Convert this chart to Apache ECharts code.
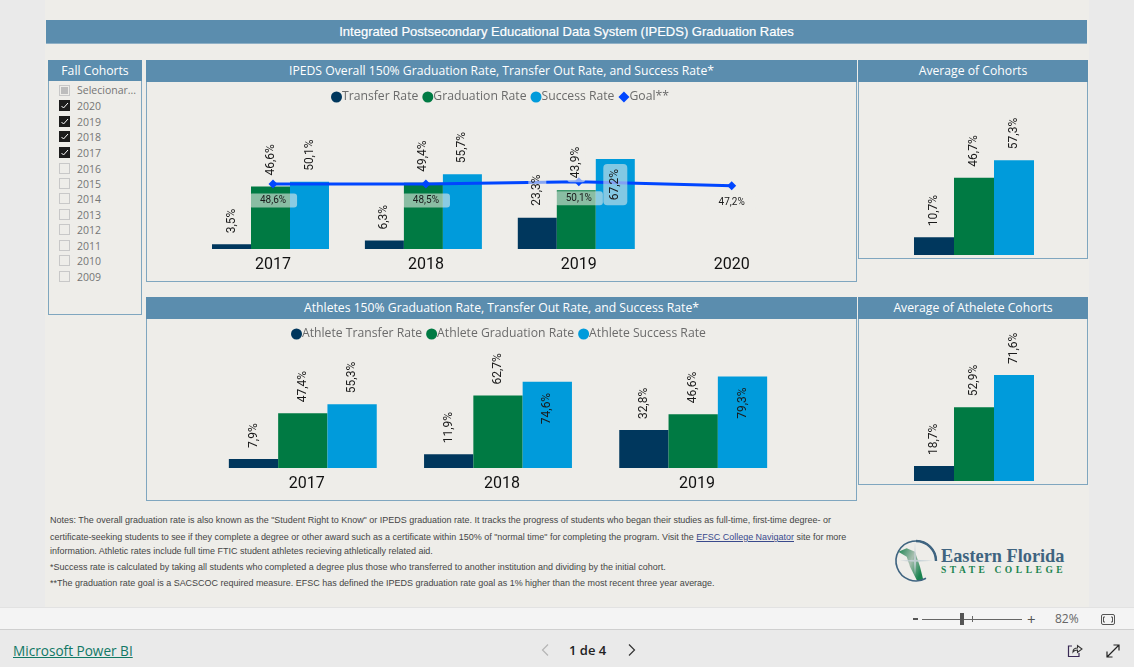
<!DOCTYPE html>
<html><head><meta charset="utf-8">
<script src="https://cdn.jsdelivr.net/npm/echarts@6/dist/echarts.min.js"></script>
<style>
html,body{margin:0;padding:0;background:#EAEAEA;overflow:hidden}
#page{position:relative;width:1134px;height:667px;overflow:hidden;font-family:"Open Sans",sans-serif}
#page>*{position:absolute}
#canvas{left:45px;top:0;width:1044px;height:607px;background:#EEEDE9}
#chart{left:0;top:0;width:1134px;height:667px;z-index:5}
.panel{box-sizing:border-box;border:1px solid #7FA6BF;background:#EEEDE9}
.hd{background:#5B8DAE;color:#fff;text-align:center;font-size:12.2px;line-height:21px;height:22px;white-space:nowrap}
.hd.abs{position:absolute;left:-1px;right:-1px;top:-1px}
#main{left:46px;top:20px;width:1041px;height:24px;background:#5B8DAE;border-bottom:1px solid #8FB0C6;box-sizing:border-box;color:#fff;text-align:center;font:13px/23px "Liberation Sans",Arial,sans-serif;-webkit-text-stroke:.2px #fff}
.sl{font-size:10.5px;color:#757575;line-height:12px;font-family:"Open Sans",sans-serif;white-space:nowrap}
.cb{box-sizing:border-box;width:11px;height:11px;border:1px solid #C8C8C8;background:#EEEDE9}
.cb.on{background:#1c1c1c;border-color:#1c1c1c}
.note{left:50px;font:8.97px/11px "Liberation Sans",Arial,sans-serif;color:#454545;white-space:nowrap}
#logo1{left:941px;top:544px;font:bold 18.3px/24px "Liberation Serif",serif;color:#3F6480;white-space:nowrap}
#logo2{left:941px;top:564px;font:bold 9.5px/12px "Liberation Serif",serif;color:#1B8450;letter-spacing:3.55px;white-space:nowrap}
</style></head><body>
<div id="page">
<div id="canvas"></div>
<div style="left:0;top:607px;width:1134px;height:23px;background:#F4F4F4;border-top:1px solid #E2E2E2;border-bottom:1px solid #CFCFCF;box-sizing:border-box"></div>
<div id="main">Integrated Postsecondary Educational Data System (IPEDS) Graduation Rates</div>

<div class="panel" style="left:48px;top:60px;width:94px;height:255px"><div class="hd abs" style="height:21px">Fall Cohorts</div></div>
<div class="panel" style="left:146px;top:60px;width:711px;height:222px"><div class="hd abs">IPEDS Overall 150% Graduation Rate, Transfer Out Rate, and Success Rate*</div></div>
<div class="panel" style="left:858px;top:60px;width:230px;height:199px"><div class="hd abs">Average of Cohorts</div></div>
<div class="panel" style="left:146px;top:297px;width:711px;height:204px"><div class="hd abs">Athletes 150% Graduation Rate, Transfer Out Rate, and Success Rate*</div></div>
<div class="panel" style="left:858px;top:297px;width:230px;height:188px"><div class="hd abs">Average of Athelete Cohorts</div></div>

<div id="slicer" style="left:0;top:0"></div>

<div class="note" style="top:515px">Notes: The overall graduation rate is also known as the "Student Right to Know" or IPEDS graduation rate. It tracks the progress of students who began their studies as full-time, first-time degree- or</div>
<div class="note" style="top:532px">certificate-seeking students to see if they complete a degree or other award such as a certificate within 150% of "normal time" for completing the program. Visit the <span style="color:#3A4A8C;text-decoration:underline">EFSC College Navigator</span> site for more</div>
<div class="note" style="top:546px">information. Athletic rates include full time FTIC student athletes recieving athletically related aid.</div>
<div class="note" style="top:562px">*Success rate is calculated by taking all students who completed a degree plus those who transferred to another institution and dividing by the initial cohort.</div>
<div class="note" style="top:578px">**The graduation rate goal is a SACSCOC required measure. EFSC has defined the IPEDS graduation rate goal as 1% higher than the most recent three year average.</div>

<svg style="left:893px;top:538px" width="46" height="46" viewBox="0 0 46 46">
<defs><linearGradient id="fl" x1="0" y1="0" x2="1" y2="0.6"><stop offset="0" stop-color="#1B8450"/><stop offset=".55" stop-color="#A9BFB0"/><stop offset="1" stop-color="#1B8450"/></linearGradient></defs>
<path d="M5.3 13.7 L13.7 10.3 L22 13.7 L27 28.7 L30.3 42 L23.7 42 L17 28.7 L13.7 18.7 Z" fill="url(#fl)"/>
<path d="M43 23 A20 20 0 1 0 33 40.3" fill="none" stroke="#3F6480" stroke-width="1.6"/>
<path d="M43 23 A20 20 0 0 0 23 3" fill="none" stroke="#3F6480" stroke-width="2.4"/>
<path d="M22 5 L23 21.7 L39.7 22.7 L23 23.7 L22 38 L21 23.7 L7 22.7 L21 21.7 Z" fill="#C5D0D6" opacity=".9"/>
</svg>
<div id="logo1">Eastern Florida</div>
<div id="logo2">STATE COLLEGE</div>

<div style="left:913px;top:618px;width:5px;height:2px;background:#555"></div>
<div style="left:922px;top:619px;width:100px;height:1px;background:#666"></div>
<div style="left:960px;top:613px;width:4px;height:12px;background:#555"></div>
<div style="left:972px;top:616px;width:1px;height:6px;background:#666"></div>
<div style="left:1027px;top:610px;font-size:15px;line-height:18px;color:#555">+</div>
<div style="left:1055px;top:611px;font-size:12px;line-height:16px;color:#666">82%</div>
<svg style="left:1100px;top:613px" width="16" height="13" viewBox="0 0 16 13"><rect x="1.5" y="1.5" width="13" height="10" rx="1.5" fill="none" stroke="#555"/><path d="M5 4H3.5V9H5M11 4H12.5V9H11" fill="none" stroke="#555"/></svg>

<div style="left:13px;top:641px;font-size:13.6px;line-height:20px;color:#117865;text-decoration:underline;font-weight:500;white-space:nowrap">Microsoft Power BI</div>
<svg style="left:540px;top:643px" width="10" height="14" viewBox="0 0 10 14"><path d="M8 1.5L2.5 7L8 12.5" fill="none" stroke="#B5B5B5" stroke-width="1.2"/></svg>
<div style="left:569px;top:641px;font-size:13px;line-height:18px;font-weight:600;color:#222;white-space:nowrap">1 de 4</div>
<svg style="left:627px;top:643px" width="10" height="14" viewBox="0 0 10 14"><path d="M2 1.5L7.5 7L2 12.5" fill="none" stroke="#333" stroke-width="1.2"/></svg>
<svg style="left:1067px;top:643px" width="16" height="15" viewBox="0 0 16 15"><path d="M5 3H1.5V13.5H12V10" fill="none" stroke="#3a2a55" stroke-width="1.2"/><path d="M6 9C6 6 8 5 10.5 5V2.5L15 6L10.5 9.5V7C8.5 7 7 7.5 6 9Z" fill="none" stroke="#333" stroke-width="1.1"/></svg>
<svg style="left:1106px;top:644px" width="14" height="14" viewBox="0 0 14 14"><path d="M1 13L13 1M7.5 1H13V6.5M1 7.5V13H6.5" fill="none" stroke="#222" stroke-width="1.2"/></svg>

<div id="chart"></div>
</div>
<script>
// ---- Data ----
const cohortYears = ['2020','2019','2018','2017','2016','2015','2014','2013','2012','2011','2010','2009'];
const checkedYears = ['2020','2019','2018','2017'];
const overallCategories = ['2017','2018','2019','2020'];
const overallTransfer = [3.5, 6.3, 23.3, null];
const overallGraduation = [46.6, 49.4, 43.9, null];
const overallSuccess = [50.1, 55.7, 67.2, null];
const overallGoal = [48.6, 48.5, 50.1, 47.2];
const athleteCategories = ['2017','2018','2019'];
const athleteTransfer = [7.9, 11.9, 32.8];
const athleteGraduation = [47.4, 62.7, 46.6];
const athleteSuccess = [55.3, 74.6, 79.3];
const averageValues = [10.7, 46.7, 57.3];
const athleteAverageValues = [18.7, 52.9, 71.6];

const NAVY='#00375D', GREEN='#007A43', BLUE='#009BDB', GOAL='#0046FF';
const PILL='rgba(238,237,233,.58)', INK='#1a1a1a', FONT='Roboto, sans-serif';
const pct = v => v.toFixed(1).replace('.',',') + '%';

// slicer rows (plain page text)
(function(){
  const host=document.getElementById('slicer');
  const ys=[106,122,137,153,169,184,199,215,230,246,261,277];
  let h='<div class="cb" style="position:absolute;left:59px;top:85px;display:flex;align-items:center;justify-content:center"><div style="width:7px;height:7px;background:#BDBDBD"></div></div><div class="sl" style="position:absolute;left:77px;top:84px">Selecionar...</div>';
  cohortYears.forEach((y,i)=>{
    const on=checkedYears.includes(y);
    h+='<div class="cb'+(on?' on':'')+'" style="position:absolute;left:59px;top:'+(ys[i]-6)+'px">'+(on?'<svg width="9" height="9" viewBox="0 0 9 9" style="display:block"><path d="M1.5 5L3.5 7L8 2" fill="none" stroke="#fff" stroke-width="1"/></svg>':'')+'</div>';
    h+='<div class="sl" style="position:absolute;left:77px;top:'+(ys[i]-6)+'px">'+y+'</div>';
  });
  host.innerHTML=h;
})();

const grids=[], xAxes=[], yAxes=[], series=[];
function addGrid(left,top,width,height,cats,min,max,showLabels){
  const g=grids.length;
  grids.push({left,top,width,height,containLabel:false});
  xAxes.push({type:'category',gridIndex:g,data:cats,axisLine:{show:false},axisTick:{show:false},splitLine:{show:false},
    axisLabel:{show:showLabels,fontFamily:FONT,fontSize:16,color:'#111',margin:8}});
  yAxes.push({type:'value',gridIndex:g,min,max,show:false});
  return g;
}
const tiny={fontFamily:FONT,fontSize:12,color:INK,formatter:p=>pct(p.value)};
function outside(extra){return Object.assign({show:true,position:'top',rotate:90,align:'left',verticalAlign:'middle',distance:11},tiny,extra||{});}
function inside(extra){return Object.assign({show:true,position:'insideTop',rotate:90,align:'right',verticalAlign:'middle',distance:11},tiny,extra||{});}
function bar(name,g,data,color,width,labelFor){
  series.push({name,type:'bar',xAxisIndex:g,yAxisIndex:g,barWidth:width,barGap:'0%',z:2,
    itemStyle:{color},
    data:data.map((v,i)=>({value:v,label:labelFor?labelFor(i):outside()}))});
}
// transparent twin of a bar series: carries only the value labels, above the goal line
function labelLayer(name,g,data,width,labelFor){
  series.push({name,type:'bar',xAxisIndex:g,yAxisIndex:g,barWidth:width,barGap:'0%',z:4,silent:true,
    itemStyle:{color:'transparent'},
    data:data.map((v,i)=>({value:v,label:labelFor(i)}))});
}
const noLabel=()=>({show:false});
const palePill={backgroundColor:PILL,padding:[3,4],borderRadius:3,distance:8};

// Overall chart: bars on one grid, axis labels + goal on a grid nudged 2.5px right
const STEP1=152.9, base1=249, h1=134;
const left1=270.5-STEP1/2;
const gBars1=addGrid(left1,base1-h1,STEP1*4,h1,overallCategories,0,100,false);
const gLine1=addGrid(273-STEP1/2,base1-h1,STEP1*4,h1,overallCategories,0,100,true);
const gLab1=addGrid(left1,base1-h1,STEP1*4,h1,overallCategories,0,100,false);
bar('Transfer Rate',gBars1,overallTransfer,NAVY,39,noLabel);
bar('Graduation Rate',gBars1,overallGraduation,GREEN,39,noLabel);
bar('Success Rate',gBars1,overallSuccess,BLUE,39,noLabel);
series.push({name:'Goal**',type:'line',xAxisIndex:gLine1,yAxisIndex:gLine1,z:3,symbol:'diamond',symbolSize:9,
  lineStyle:{color:GOAL,width:3},itemStyle:{color:GOAL},
  label:{show:true,position:'bottom',distance:5,fontFamily:FONT,fontSize:10,color:INK,backgroundColor:PILL,padding:[2,11],borderRadius:3,formatter:p=>pct(p.value)},
  data:overallGoal});
labelLayer('Transfer Rate values',gLab1,overallTransfer,39,i=>i===2?outside(palePill):outside());
labelLayer('Graduation Rate values',gLab1,overallGraduation,39,i=>i===2?outside(palePill):outside());
labelLayer('Success Rate values',gLab1,overallSuccess,39,i=>i===2?inside({backgroundColor:'rgba(238,237,233,.55)',padding:[6,5],borderRadius:4,distance:5}):outside());

// Athlete chart
const STEP2=195.2, base2=468, h2=115.5;
const gBars2=addGrid(302.8-STEP2/2,base2-h2,STEP2*3,h2,athleteCategories,0,100,false);
addGrid(306.7-STEP2/2,base2-h2,STEP2*3,h2,athleteCategories,0,100,true);
bar('Athlete Transfer Rate',gBars2,athleteTransfer,NAVY,49.3);
bar('Athlete Graduation Rate',gBars2,athleteGraduation,GREEN,49.3);
bar('Athlete Success Rate',gBars2,athleteSuccess,BLUE,49.3,i=>i===0?outside():inside());

// Average panels
const gAvg1=addGrid(874,255-165.5,200,165.5,['Average'],0,100,false);
const gAvg2=addGrid(874,481-154.8,200,154.8,['Average'],10,100,false);
['Transfer','Graduation','Success'].forEach((n,i)=>{
  const c=[NAVY,GREEN,BLUE][i];
  bar('Average '+n,gAvg1,[averageValues[i]],c,40);
  bar('Athlete Average '+n,gAvg2,[athleteAverageValues[i]],c,40);
});

const legendBase={orient:'horizontal',itemWidth:11,itemHeight:11,itemGap:4,icon:'circle',selectedMode:false,
  textStyle:{fontFamily:'"Open Sans",sans-serif',fontSize:12.2,color:'#6B6B6B',padding:[0,0,0,-5]}};
const option={animation:false,backgroundColor:'transparent',grid:grids,xAxis:xAxes,yAxis:yAxes,series,
  legend:[
   Object.assign({},legendBase,{left:326,top:86,data:['Transfer Rate','Graduation Rate','Success Rate',{name:'Goal**',icon:'diamond'}]}),
   Object.assign({},legendBase,{left:286,top:323,data:['Athlete Transfer Rate','Athlete Graduation Rate','Athlete Success Rate']})
  ]};
const chart=echarts.init(document.getElementById('chart'),null,{renderer:'canvas'});
chart.setOption(option);
</script>
</body></html>
